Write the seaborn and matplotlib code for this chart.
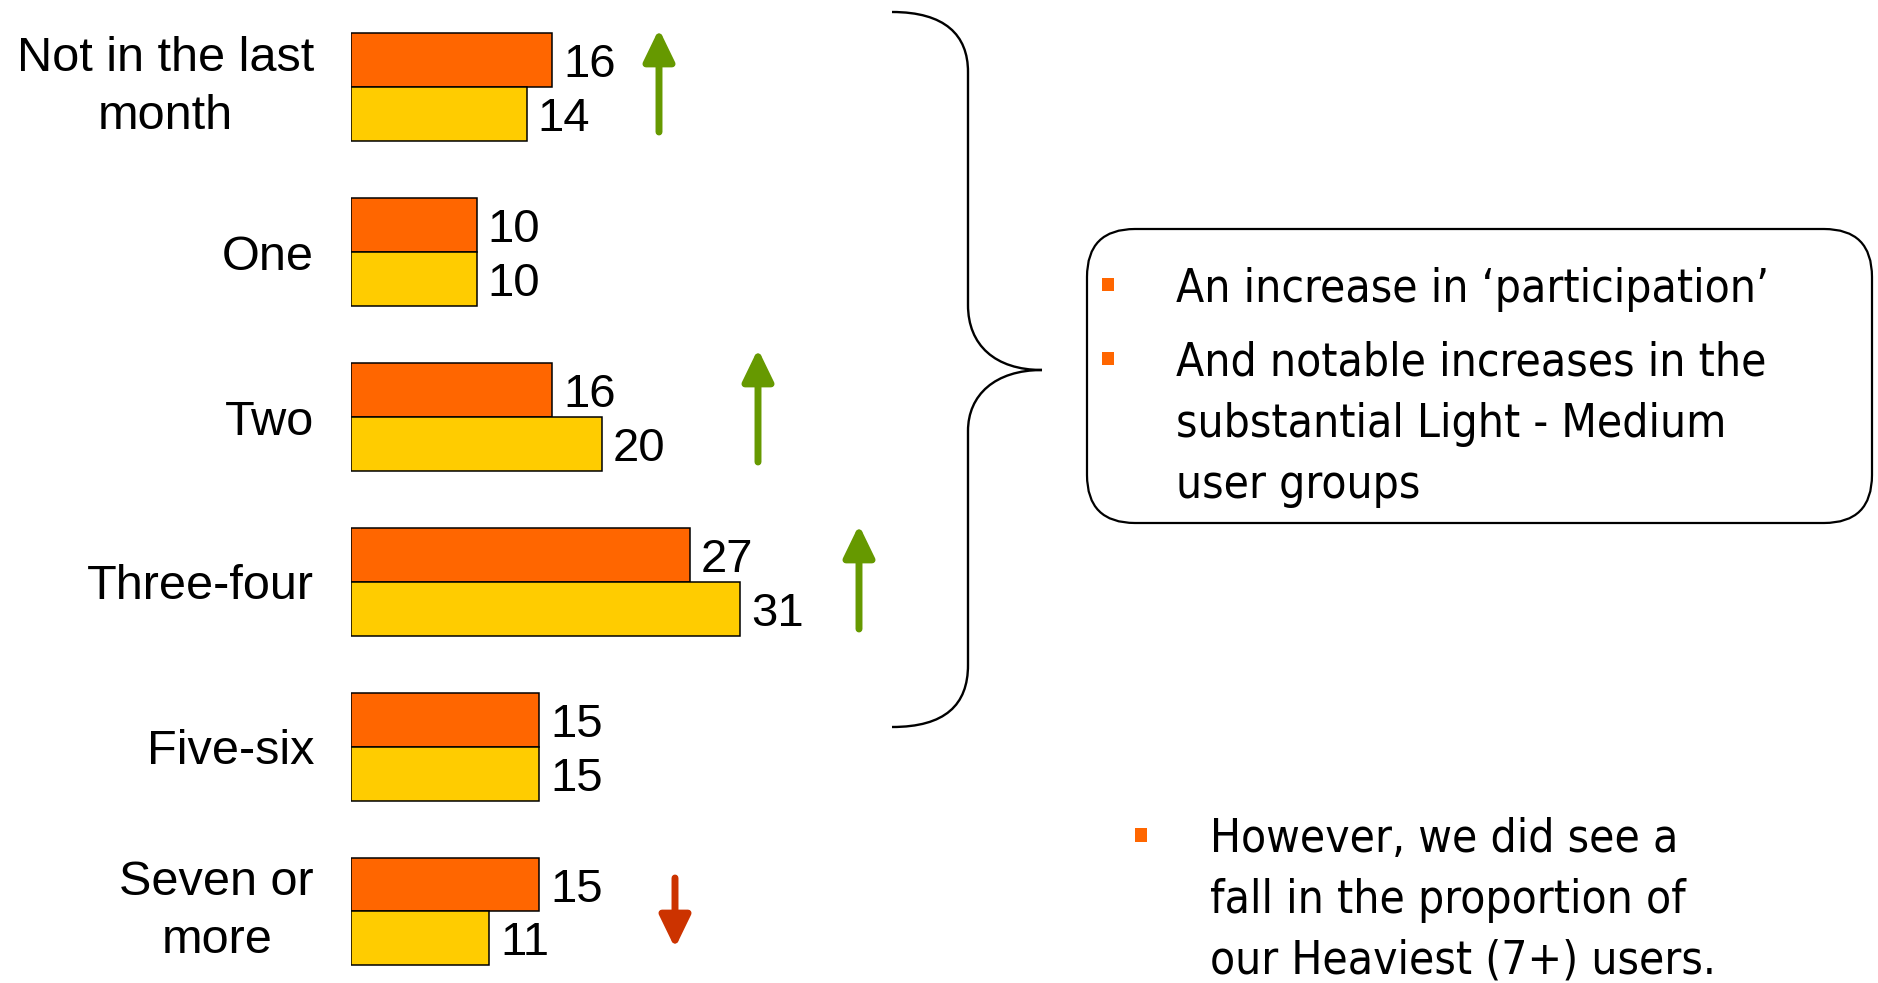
import numpy as np
import pandas as pd
import matplotlib
matplotlib.use('Agg')
import matplotlib.pyplot as plt
import matplotlib.patches as mpatches
from matplotlib.path import Path
from matplotlib import font_manager
import seaborn as sns

# data
categories = ['Not in the last\nmonth', 'One', 'Two', 'Three-four', 'Five-six', 'Seven or\nmore']
previous = [16, 10, 16, 27, 15, 15]
current = [14, 10, 20, 31, 15, 11]
periods = ['Previous', 'Current']
bar_colors = ['#FF6600', '#FFCC00']

box_lines = ["An increase in \u2018participation\u2019", "And notable increases in the",
             "substantial Light - Medium", "user groups"]
note_lines = ["However, we did see a", "fall in the proportion of", "our Heaviest (7+) users."]

df = pd.DataFrame({
    'category': categories * 2,
    'period': [periods[0]] * len(categories) + [periods[1]] * len(categories),
    'value': previous + current,
})

sns.set_style('white')
plt.rcParams['font.family'] = ['Liberation Sans', 'DejaVu Sans']
plt.rcParams['text.color'] = 'black'
plt.rcParams['ytick.labelcolor'] = 'black'
plt.rcParams['ytick.color'] = 'black'

# Tahoma-like font for the side notes
cond = any(f.name == 'DejaVu Sans' and str(f.stretch) == 'condensed'
           for f in font_manager.fontManager.ttflist)
note_font = dict(family='DejaVu Sans', fontstretch='condensed', fontsize=33) if cond \
    else dict(family='DejaVu Sans', fontsize=29)

W, H = 1878, 983
fig = plt.figure(figsize=(W / 100, H / 100), dpi=100)

# bar chart: axes starts at the bar base
x0 = 351
px_per_unit = 12.55
ax = fig.add_axes([x0 / W, 0, 1 - x0 / W, 1])
sns.barplot(data=df, y='category', x='value', hue='period', palette=bar_colors,
            width=0.655, edgecolor='black', linewidth=1.1, saturation=1,
            legend=False, orient='h', ax=ax)
ax.set_xlim(0, (W - x0) / px_per_unit)
ax.set_ylim(5 + (H - 911.5) / 164.8, -87.4 / 164.8)
for c in ax.containers:
    labels = ax.bar_label(c, padding=8, fontsize=34, color='black')
    for t in labels:
        t.set_verticalalignment('center_baseline')
ax.set_xlabel('')
ax.set_ylabel('')
ax.set_xticks([])
ax.tick_params(axis='y', length=0, pad=26.6, labelsize=35, labelcolor='black')
for lab in ax.get_yticklabels():
    if '\n' in lab.get_text():
        lab.set_multialignment('center')
        lab.set_linespacing(1.35)
        lab.set_verticalalignment('center')
for s in ax.spines.values():
    s.set_visible(False)
ax.patch.set_alpha(0)

# overlay in pixel coordinates for the annotations
ov = fig.add_axes([0, 0, 1, 1])
ov.set_xlim(0, W)
ov.set_ylim(H, 0)
ov.axis('off')

# change arrows
arrows = [(659, 132, 29, '#669900'), (758, 462, 349, '#669900'),
          (859, 629, 525, '#669900'), (675, 878, 948, '#CC3300')]
for x, tail, tip, col in arrows:
    ov.annotate('', xy=(x, tip), xytext=(x, tail),
                arrowprops=dict(arrowstyle='-|>,head_length=0.97,head_width=0.47',
                                mutation_scale=20, lw=5, color=col,
                                shrinkA=0, shrinkB=0))

# curly brace
verts = [(892, 12), (945, 12), (968, 35), (968, 72),
         (968, 305),
         (968, 345), (995, 370), (1042, 370),
         (995, 370), (968, 395), (968, 431),
         (968, 665),
         (968, 705), (945, 727), (892, 727)]
codes = [Path.MOVETO, Path.CURVE4, Path.CURVE4, Path.CURVE4,
         Path.LINETO,
         Path.CURVE4, Path.CURVE4, Path.CURVE4,
         Path.CURVE4, Path.CURVE4, Path.CURVE4,
         Path.LINETO,
         Path.CURVE4, Path.CURVE4, Path.CURVE4]
ov.add_patch(mpatches.PathPatch(Path(verts, codes), fc='none', ec='black', lw=1.7))

# rounded callout box
ov.add_patch(mpatches.FancyBboxPatch((1087, 229), 785, 294,
                                     boxstyle='round,pad=0,rounding_size=48',
                                     fc='white', ec='black', lw=1.6))
ov.add_patch(mpatches.Rectangle((1102, 278), 12, 13, color='#FF6600', lw=0))
ov.add_patch(mpatches.Rectangle((1102, 352), 12, 13, color='#FF6600', lw=0))
for line, yb in zip(box_lines, [302, 375, 437, 498]):
    ov.text(1176, yb, line, ha='left', va='baseline', color='black', **note_font)

# bottom note
ov.add_patch(mpatches.Rectangle((1135, 828), 12, 14, color='#FF6600', lw=0))
for line, yb in zip(note_lines, [852, 913, 974]):
    ov.text(1210, yb, line, ha='left', va='baseline', color='black', **note_font)

plt.savefig('out.png', dpi=100)
